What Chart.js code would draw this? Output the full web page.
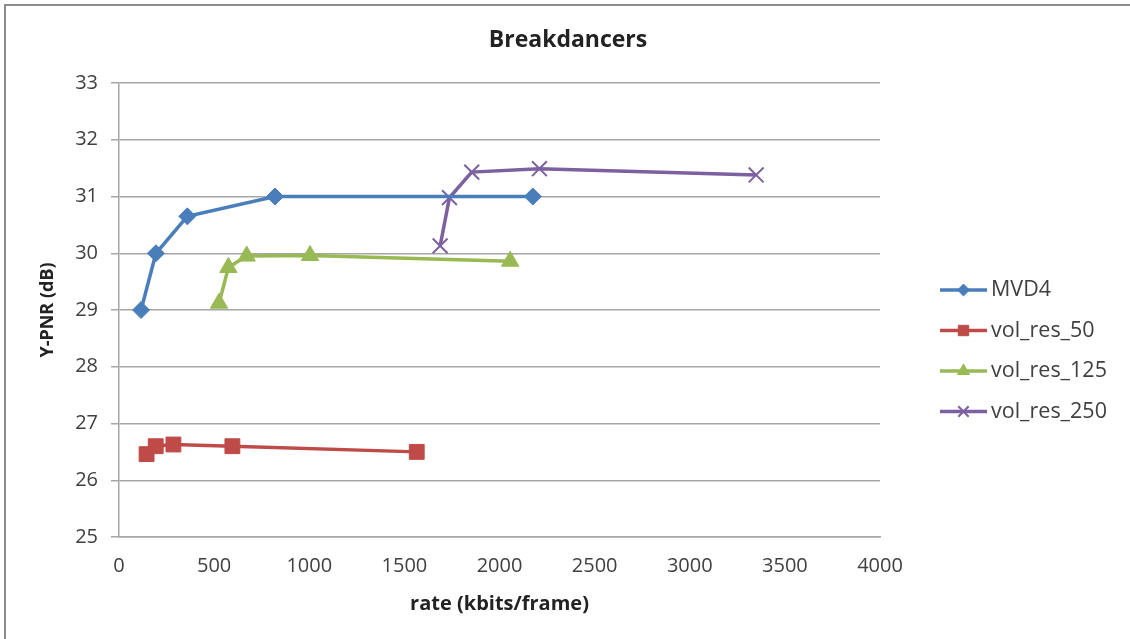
<!DOCTYPE html>
<html>
<head>
<meta charset="utf-8">
<script src="https://cdn.jsdelivr.net/npm/chart.js@4.4.1/dist/chart.umd.min.js"></script>
<style>
  html, body { margin: 0; padding: 0; background: #fff; }
  #wrap { width: 1130px; height: 639px; position: relative; }
</style>
</head>
<body>
<div id="wrap"><canvas id="chart-canvas"></canvas></div>
<script>
// values
const seriesNames = ['MVD4', 'vol_res_50', 'vol_res_125', 'vol_res_250'];

const mvd4Rate = [116, 194, 359, 820, 2175];
const mvd4Psnr = [29.0, 30.0, 30.65, 31.0, 31.0];

const res50Rate = [145, 193, 286, 596, 1565];
const res50Psnr = [26.46, 26.6, 26.63, 26.6, 26.5];

const res125Rate = [526, 575, 671, 1004, 2056];
const res125Psnr = [29.12, 29.75, 29.95, 29.96, 29.86];

const res250Rate = [1688, 1737, 1854, 2210, 3349];
const res250Psnr = [30.13, 30.98, 31.43, 31.49, 31.38];

const xTicks = [0, 500, 1000, 1500, 2000, 2500, 3000, 3500, 4000];
const yTicks = [25, 26, 27, 28, 29, 30, 31, 32, 33];

const FONT = '"Open Sans", "Liberation Sans", sans-serif';
const GRID = '#a6a6a6';

const toPoints = (xs, ys) => xs.map((x, i) => ({ x: x, y: ys[i] }));

const makeSet = (label, xs, ys, color, style, radius, bw) => ({
  label: label,
  data: toPoints(xs, ys),
  borderColor: color,
  backgroundColor: color,
  borderWidth: 3.5,
  pointStyle: style,
  pointRadius: radius,
  pointHoverRadius: radius,
  pointBorderWidth: bw,
  pointBackgroundColor: color,
  pointBorderColor: color,
  tension: 0,
  fill: false
});

const datasets = [
  makeSet(seriesNames[0], mvd4Rate, mvd4Psnr, '#4a7ebb', 'rectRot', 8.5, 1),
  makeSet(seriesNames[1], res50Rate, res50Psnr, '#be4b48', 'rect', 10.5, 1),
  makeSet(seriesNames[2], res125Rate, res125Psnr, '#98b954', 'triangle', 10, 1),
  makeSet(seriesNames[3], res250Rate, res250Psnr, '#7d60a0', 'crossRot', 10.5, 2)
];

// frame: only top and left edges are visible in the picture
const framePlugin = {
  id: 'frame',
  beforeDraw(chart) {
    const ctx = chart.ctx;
    ctx.save();
    ctx.fillStyle = '#fff';
    ctx.fillRect(0, 0, chart.width, chart.height);
    ctx.strokeStyle = '#8c8c8c';
    ctx.lineWidth = 2;
    ctx.beginPath();
    ctx.moveTo(5, chart.height);
    ctx.lineTo(5, 5);
    ctx.lineTo(chart.width, 5);
    ctx.stroke();
    ctx.restore();
  }
};

// small fallback in case helpers.drawPoint is not exposed
const drawMarker = (ctx, style, r, x, y) => {
  if (Chart.helpers && Chart.helpers.drawPoint) {
    Chart.helpers.drawPoint(ctx, { pointStyle: style, radius: r, rotation: 0, borderWidth: ctx.lineWidth }, x, y);
    return;
  }
  ctx.beginPath();
  ctx.arc(x, y, r, 0, Math.PI * 2);
  ctx.fill();
};

// legend as its own layout box on the right
const sideLegend = {
  id: 'sideLegend',
  beforeInit(chart) {
    const box = {
      position: 'right',
      weight: 0,
      fullSize: false,
      options: {},
      left: 0, top: 0, right: 0, bottom: 0, width: 0, height: 0,
      isHorizontal() { return false; },
      update(maxWidth, maxHeight) {
        this.width = 250;
        this.height = maxHeight;
      },
      getPadding() { return { top: 0, left: 0, right: 0, bottom: 0 }; },
      draw() {
        const ctx = chart.ctx;
        const x0 = this.left + 60;
        const lineLen = 47;
        ctx.save();
        chart.data.datasets.forEach((ds, i) => {
          const y = 290 + i * 40.5;
          ctx.strokeStyle = ds.borderColor;
          ctx.fillStyle = ds.backgroundColor;
          ctx.lineWidth = 3.5;
          ctx.beginPath();
          ctx.moveTo(x0, y);
          ctx.lineTo(x0 + lineLen, y);
          ctx.stroke();
          ctx.lineWidth = ds.pointBorderWidth;
          drawMarker(ctx, ds.pointStyle, ds.pointRadius * 0.7, x0 + lineLen / 2, y);
          ctx.fillStyle = '#404040';
          ctx.font = '21.5px ' + FONT;
          ctx.textAlign = 'left';
          ctx.textBaseline = 'middle';
          ctx.fillText(ds.label, x0 + lineLen + 4, y);
        });
        ctx.restore();
      }
    };
    Chart.layouts.addBox(chart, box);
  }
};

const ctx = document.getElementById('chart-canvas');
new Chart(ctx, {
  type: 'line',
  data: { datasets: datasets },
  plugins: [framePlugin, sideLegend],
  options: {
    responsive: true,
    maintainAspectRatio: false,
    animation: false,
    layout: { padding: { left: 6, right: 0, top: 0, bottom: 0 } },
    plugins: {
      legend: { display: false },
      tooltip: { enabled: false },
      title: {
        display: true,
        text: 'Breakdancers',
        color: '#222',
        font: { family: FONT, size: 23, weight: 'bold' },
        padding: { top: 27, bottom: 28.4 }
      }
    },
    scales: {
      x: {
        type: 'linear',
        min: xTicks[0],
        max: xTicks[xTicks.length - 1],
        afterBuildTicks(scale) { scale.ticks = xTicks.map(v => ({ value: v })); },
        afterFit(scale) { scale.height = 102; },
        grid: { display: false, drawTicks: false },
        border: { display: true, color: GRID, width: 1.5 },
        ticks: {
          color: '#404040',
          padding: 17,
          maxRotation: 0,
          font: { family: FONT, size: 20 },
          callback: (v) => String(v)
        },
        title: {
          display: true,
          text: 'rate (kbits/frame)',
          color: '#222',
          font: { family: FONT, size: 20, weight: 'bold' },
          padding: { top: 0, bottom: 23 }
        }
      },
      y: {
        type: 'linear',
        min: yTicks[0],
        max: yTicks[yTicks.length - 1],
        afterBuildTicks(scale) { scale.ticks = yTicks.map(v => ({ value: v })); },
        afterFit(scale) { scale.width = 113; },
        grid: { color: GRID, lineWidth: 1.5, tickLength: 8, drawTicks: true },
        border: { display: true, color: GRID, width: 1.5 },
        ticks: {
          color: '#404040',
          padding: 13,
          font: { family: FONT, size: 20 },
          callback: (v) => String(v)
        },
        title: {
          display: true,
          text: 'Y-PNR (dB)',
          color: '#222',
          font: { family: FONT, size: 18, weight: 'bold' },
          padding: { top: 31, bottom: 0 }
        }
      }
    }
  }
});
</script>
</body>
</html>
